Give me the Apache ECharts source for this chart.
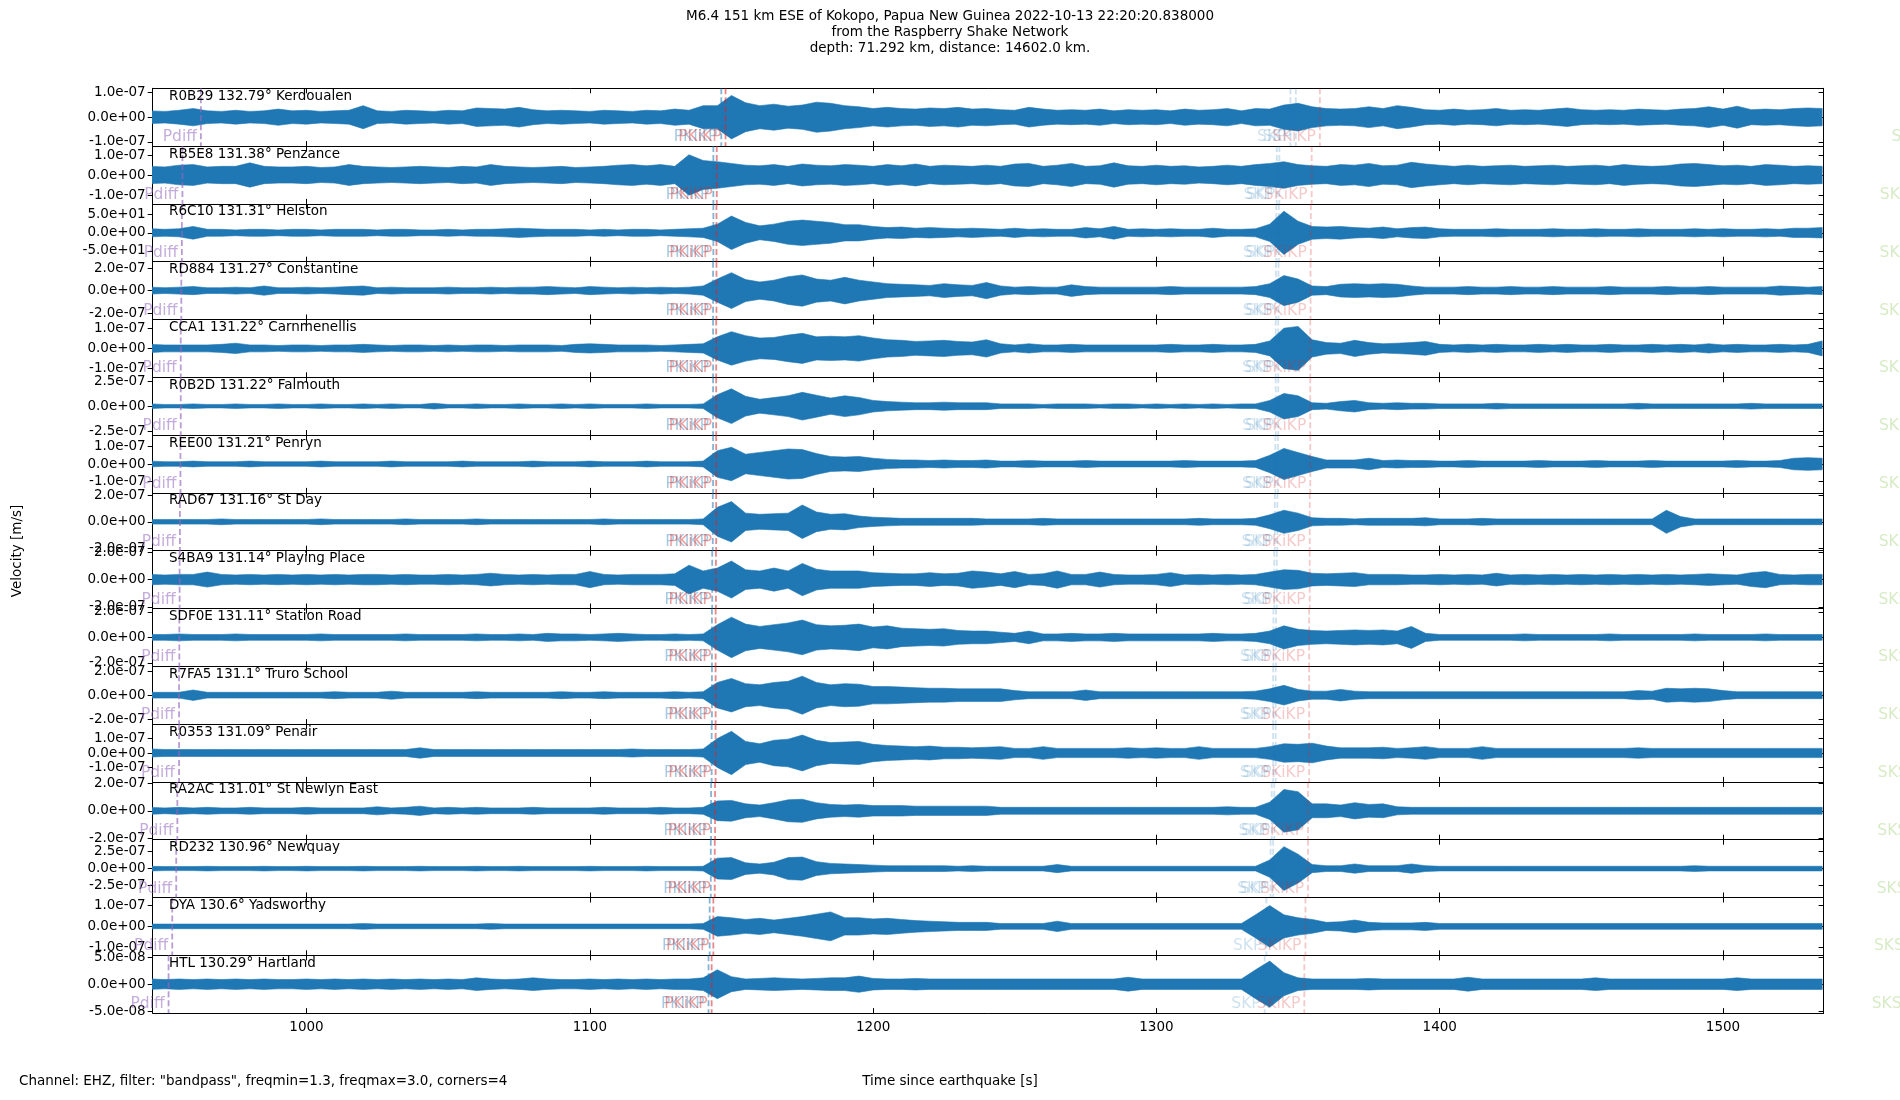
<!DOCTYPE html>
<html>
<head>
<meta charset="UTF-8">
<title>Raspberry Shake record section</title>
<script src="https://cdn.jsdelivr.net/npm/echarts@6/dist/echarts.min.js"></script>
<style>
    *{margin:0;padding:0;}
    #main{width:1900px;height:1100px;background:#fff;}
</style>
</head>
<body>
<div id="main"></div>
<script>
// stations, top to bottom
var stations = ['R0B29','RB5E8','R6C10','RD884','CCA1','R0B2D','REE00','RAD67','S4BA9','SDF0E','R7FA5','R0353','RA2AC','RD232','DYA','HTL'];
var distances = ['132.79','131.38','131.31','131.27','131.22','131.22','131.21','131.16','131.14','131.11','131.1','131.09','131.01','130.96','130.6','130.29'];
var places = ['Kerdoualen','Penzance','Helston','Constantine','Carnmenellis','Falmouth','Penryn','St Day','Playing Place','Station Road','Truro School','Penair','St Newlyn East','Newquay','Yadsworthy','Hartland'];

// y tick value and y half range of each panel
var yTicks  = [1e-7, 1e-7, 50, 2e-7, 1e-7, 2.5e-7, 1e-7, 2e-7, 2e-7, 2e-7, 2e-7, 1e-7, 2e-7, 2.5e-7, 1e-7, 5e-8];
var yLimits = [1.17e-7, 1.445e-7, 80, 2.58e-7, 1.45e-7, 2.91e-7, 1.64e-7, 2.17e-7, 2.12e-7, 2.27e-7, 2.39e-7, 1.99e-7, 2.12e-7, 4.26e-7, 1.38e-7, 5.35e-8];

var xTicks = [1000, 1100, 1200, 1300, 1400, 1500];
var xMin = 945.7, xMax = 1535.5;

// trace envelopes, % of panel half range, one value every 5 s from 945 s
var sampleStart = 945, sampleStep = 5;
var envR0B29 = [22,20,24,30,22,20,24,20,22,28, 22,24,20,22,24,40,22,20,24,22, 20,24,22,32,30,28,34,26,22,24, 22,20,24,22,20,24,22,28,24,40,
                40,75,50,40,45,38,42,52,48,40, 36,30,34,30,28,32,30,34,28,30, 26,24,34,28,24,26,24,28,22,26, 24,26,22,28,24,26,30,22,30,28,
                42,48,36,30,28,30,36,30,40,34, 26,24,28,24,26,30,24,26,24,28, 32,26,24,26,24,28,26,24,28,30, 36,28,38,26,28,26,30,32,30];
var envRB5E8 = [30,28,34,36,28,30,30,42,30,28, 28,30,26,28,36,30,28,26,28,30, 28,26,30,28,36,30,28,26,28,30, 26,28,30,34,36,32,36,30,70,50,
                46,40,34,32,36,30,38,34,32,36, 34,30,36,32,38,30,34,32,30,34, 30,38,40,30,34,40,30,32,42,32, 30,34,30,32,28,30,34,30,36,40,
                46,36,32,30,36,34,40,32,34,44, 38,34,30,34,30,32,34,30,32,34, 30,32,34,30,36,32,30,32,38,40, 36,32,34,30,36,34,30,32,30];
var envR6C10 = [14,12,14,22,12,12,10,12,12,10, 12,12,10,12,12,12,10,12,12,10, 10,12,10,12,12,14,16,14,12,12, 12,10,12,10,12,12,10,12,14,16,
                30,58,36,24,30,40,44,40,36,28, 28,22,18,20,16,18,16,14,16,14, 12,16,12,14,12,12,18,14,22,12, 14,12,14,12,12,16,12,12,14,30,
                75,40,22,20,22,18,16,20,14,18, 20,14,12,12,12,14,12,12,12,14, 12,12,14,12,12,14,12,12,12,14, 12,14,12,12,14,12,16,16,18];
var envRD884 = [12,10,12,14,10,10,12,10,16,10, 10,12,10,12,14,16,10,12,10,10, 10,12,10,10,12,10,12,12,14,12, 10,14,12,10,12,10,12,10,12,16,
                40,62,38,30,36,48,54,40,36,46, 36,30,24,22,20,18,24,20,18,28, 16,12,14,12,12,20,14,12,12,12, 12,12,14,12,12,12,12,12,14,24,
                52,40,16,14,22,24,22,24,22,16, 12,12,12,14,12,12,14,12,12,14, 12,12,12,14,12,12,12,14,12,12, 14,12,12,12,12,16,14,12,14];
var envCCA1  = [14,12,12,12,12,14,18,12,12,10, 12,12,10,12,12,14,12,10,12,12, 10,12,10,12,12,10,12,12,12,10, 14,16,14,12,12,12,10,12,14,16,
                40,58,44,36,38,46,52,40,42,40, 44,36,30,28,24,26,28,24,22,30, 16,12,16,12,12,14,12,12,12,12, 12,12,14,12,12,14,12,12,14,26,
                70,76,30,20,18,28,20,16,18,20, 24,14,12,14,12,14,12,12,14,12, 14,12,12,14,12,12,14,12,14,12, 16,12,14,12,12,14,12,14,26];
var envR0B2D = [8,6,6,8,6,6,8,6,6,8, 6,6,8,6,6,8,6,8,6,6, 10,6,6,8,6,6,8,6,6,8, 6,8,6,6,6,8,6,6,6,8,
                40,60,34,24,30,36,48,38,28,36, 30,20,16,14,12,12,14,12,12,12, 8,8,8,6,8,8,8,6,8,8, 6,8,6,8,6,8,6,8,8,20,
                44,36,12,10,16,20,12,10,12,10, 10,8,8,8,8,10,8,8,8,8, 8,8,8,8,8,10,8,8,8,8, 8,8,8,10,8,8,8,8,8];
var envREE00 = [10,8,8,10,8,8,8,10,8,8, 8,8,10,8,8,8,8,10,8,8, 8,8,10,8,8,8,8,10,8,8, 8,10,8,8,8,10,8,8,8,10,
                46,58,34,40,46,52,50,36,26,24, 26,20,16,14,14,12,14,12,12,14, 10,10,12,10,10,10,12,10,10,10, 10,10,10,12,10,10,10,10,12,30,
                54,40,26,14,14,14,20,12,14,12, 12,10,10,12,10,10,10,10,12,10, 10,10,12,10,10,10,12,10,10,10, 10,10,12,10,10,12,20,22,20];
var envRAD67 = [8,8,8,8,8,10,8,8,8,8, 8,8,10,8,8,8,8,8,10,8, 8,8,8,10,8,8,8,8,8,8, 8,8,10,8,8,8,8,8,8,10,
                50,70,30,26,28,30,58,34,26,28, 20,16,14,12,12,12,12,12,12,10, 10,10,10,12,10,10,10,10,10,10, 10,10,10,10,12,10,10,10,12,24,
                40,30,14,12,12,10,12,12,12,12, 14,10,10,10,12,10,10,10,10,10, 10,10,10,10,10,10,10,40,18,10, 10,10,10,10,10,10,10,10,10];
var envS4BA9 = [18,16,18,18,26,18,16,18,16,18, 16,18,16,18,16,18,18,16,18,16, 16,18,16,18,22,18,16,18,16,18, 18,28,18,16,18,18,18,20,50,30,
                40,64,34,30,40,30,56,36,30,30, 30,24,22,20,20,24,20,22,30,26, 20,28,18,20,30,18,18,26,18,16, 16,18,24,16,18,16,18,16,18,26,
                34,32,22,20,22,24,18,18,18,16, 16,18,16,18,16,22,16,18,16,18, 16,18,16,18,16,18,16,18,16,18, 20,18,16,24,28,18,16,18,18];
var envSDF0E = [10,10,12,10,10,10,12,10,10,10, 10,10,12,10,10,10,10,10,12,10, 10,10,10,12,10,10,12,10,14,12, 12,10,12,14,12,10,10,12,10,12,
                44,70,46,38,44,50,60,44,40,42, 46,36,40,32,30,28,30,24,22,22, 18,14,22,12,12,14,12,12,14,12, 12,12,12,12,12,14,12,12,14,22,
                40,28,24,22,24,26,24,26,22,38, 14,10,10,10,10,10,10,12,10,10, 10,10,10,12,10,10,10,10,10,12, 10,10,10,10,12,10,10,10,10];
var envR7FA5 = [10,10,10,18,10,10,10,10,10,10, 10,10,10,12,10,10,10,14,10,10, 10,10,10,12,10,10,10,10,10,12, 10,10,12,10,10,10,10,12,10,12,
                44,58,40,36,44,48,66,44,36,40, 38,30,30,28,26,24,24,22,22,22, 22,16,12,12,12,12,18,12,12,12, 12,12,12,12,12,12,12,12,14,22,
                34,20,14,14,20,14,12,12,12,12, 12,12,12,12,12,12,12,12,12,12, 12,12,12,12,12,16,14,24,22,24, 22,16,12,12,12,12,12,12,12];
var envR0353 = [14,12,12,12,12,12,12,12,12,12, 12,12,12,12,12,12,12,12,12,18, 12,12,12,12,12,12,12,12,12,12, 12,12,12,12,14,12,12,12,12,14,
                50,75,40,32,44,48,62,44,36,38, 40,30,26,24,22,24,20,20,18,20, 22,16,16,22,16,16,16,16,16,18, 16,18,16,16,22,16,16,16,16,22,
                32,30,34,24,18,18,18,20,16,18, 22,16,16,16,22,16,16,16,16,16, 16,16,16,16,16,18,16,16,16,16, 16,16,16,16,16,16,16,16,16];
var envRA2AC = [12,10,12,10,12,10,10,12,10,10, 10,12,10,10,10,10,14,10,12,16, 10,12,10,12,10,10,10,12,10,10, 10,10,12,10,10,10,12,10,10,12,
                34,36,24,20,28,38,40,28,22,20, 22,18,18,18,16,16,16,16,16,16, 12,12,12,12,12,12,12,12,12,12, 12,12,12,12,12,12,14,12,12,30,
                74,66,24,24,20,28,22,24,14,12, 12,12,12,12,12,12,12,12,12,12, 12,12,12,12,12,12,12,12,12,12, 12,12,12,12,12,12,12,12,12];
var envRD232 = [8,7,7,7,8,7,7,7,8,7, 7,8,7,7,7,8,7,7,7,8, 7,7,7,8,7,7,8,7,7,7, 7,8,7,7,7,8,7,7,7,8,
                36,38,20,16,22,38,40,24,18,16, 14,12,10,10,10,10,10,8,10,8, 8,8,8,8,14,8,8,8,8,8, 8,8,8,8,8,8,8,8,8,30,
                76,50,14,10,10,16,10,10,10,16, 10,8,8,8,8,8,8,8,8,8, 8,8,8,8,8,8,8,8,8,10, 8,8,8,8,8,8,8,8,8];
var envDYA   = [8,8,8,8,8,8,8,8,8,8, 8,8,8,8,8,10,8,8,8,8, 8,8,8,8,10,8,8,8,8,8, 8,8,8,8,8,8,8,8,8,10,
                34,30,24,28,22,28,34,42,50,30, 30,26,28,24,20,18,16,14,14,14, 10,10,10,10,18,10,10,10,10,10, 10,10,10,10,10,10,10,10,40,72,
                40,30,24,14,16,22,14,12,12,12, 14,10,10,10,10,10,10,10,10,10, 10,10,10,10,10,10,10,10,10,10, 10,10,10,10,10,10,10,10,10];
var envHTL   = [18,16,18,16,18,16,18,16,18,16, 16,18,16,18,16,18,16,18,16,18, 16,18,16,22,18,16,18,22,18,16, 16,18,16,18,16,18,16,18,18,22,
                50,26,18,20,22,20,18,20,22,22, 28,20,18,18,20,18,18,18,18,18, 18,18,18,18,18,18,18,18,18,24, 18,18,18,18,18,18,18,18,50,80,
                40,22,18,18,18,18,20,18,18,18, 18,18,18,24,18,18,18,18,18,18, 18,18,22,18,18,18,18,18,18,18, 18,18,22,18,18,18,18,18,18];
var envelopes = [envR0B29, envRB5E8, envR6C10, envRD884, envCCA1, envR0B2D, envREE00, envRAD67,
                 envS4BA9, envSDF0E, envR7FA5, envR0353, envRA2AC, envRD232, envDYA, envHTL];

// predicted arrival times [s] per panel
var tPdiff = [962.7, 956.2, 956.0, 955.8, 955.6, 955.6, 955.5, 955.3, 955.2, 955.1, 955.0, 955.0, 954.4, 954.0, 952.6, 951.3];
var tPKIKP = [1146.4, 1143.6, 1143.6, 1143.5, 1143.5, 1143.5, 1143.5, 1143.4, 1143.2, 1143.1, 1143.1, 1143.0, 1142.8, 1142.7, 1142.3, 1141.9];
var tPKiKP = [1147.9, 1144.8, 1144.7, 1144.7, 1144.6, 1144.6, 1144.6, 1144.6, 1144.5, 1144.4, 1144.4, 1144.4, 1144.2, 1144.1, 1143.6, 1143.0];
var tSKP   = [1347.3, 1342.5, 1342.3, 1342.2, 1342.1, 1342.1, 1342.0, 1341.8, 1341.6, 1341.3, 1341.2, 1341.2, 1340.7, 1340.3, 1338.8, 1338.2];
var tSKP2  = [1349.2, 1343.4, 1343.2, 1343.1, 1343.0, 1343.0, 1342.9, 1342.7, 1342.5, 1342.2, 1342.1, 1342.1, 1341.6, 1341.2, null, null];
var tSKiKP = [1357.7, 1354.8, 1354.5, 1354.4, 1354.3, 1354.3, 1354.3, 1354.1, 1354.1, 1353.9, 1353.9, 1353.9, 1353.5, 1353.5, 1352.6, 1352.2];
var tSKS   = [1571.4, 1567.3, 1567.2, 1567.1, 1567.0, 1567.0, 1567.0, 1566.9, 1566.8, 1566.7, 1566.7, 1566.6, 1566.4, 1566.2, 1565.2, 1564.4];
var phaseNames = ['Pdiff', 'PKIKP', 'PKiKP', 'SKP', 'SKP', 'SKiKP', 'SKS'];
var phaseTimes = [tPdiff, tPKIKP, tPKiKP, tSKP, tSKP2, tSKiKP, tSKS];

var titleLines = ['M6.4 151 km ESE of Kokopo, Papua New Guinea 2022-10-13 22:20:20.838000',
                  'from the Raspberry Shake Network',
                  'depth: 71.292 km, distance: 14602.0 km.'];

// ---- layout / style ----
var FONT = '"DejaVu Sans", sans-serif';
var TRACE = '#1f77b4';
var PLOT_LEFT = 152.7, PLOT_RIGHT = 76.4, PLOT_TOP = 88.3, PANEL_H = 57.8;
var phaseLine = ['rgba(148,103,189,0.65)', 'rgba(31,119,180,0.55)', 'rgba(214,39,40,0.55)',
                 'rgba(31,119,180,0.22)', 'rgba(31,119,180,0.22)', 'rgba(214,39,40,0.25)', 'rgba(120,190,60,0.3)'];
var phaseText = ['rgba(148,103,189,0.55)', 'rgba(31,119,180,0.4)', 'rgba(214,39,40,0.45)',
                 'rgba(31,119,180,0.22)', 'rgba(31,119,180,0.22)', 'rgba(214,39,40,0.25)', 'rgba(120,190,60,0.3)'];

function sci(v) {
    if (v === 0) return '0.0e+00';
    var p = v.toExponential(1).split('e');
    var e = parseInt(p[1], 10);
    var a = Math.abs(e);
    return p[0] + 'e' + (e < 0 ? '-' : '+') + (a < 10 ? '0' : '') + a;
}

function traceRenderer(i) {
    return function (params, api) {
        var env = envelopes[i], up = [], down = [];
        for (var k = 0; k < env.length; k++) {
            var t = sampleStart + k * sampleStep;
            var a = env[k] / 100 * yLimits[i];
            up.push(api.coord([t, a]));
            down.push(api.coord([t, -a]));
        }
        return {
            type: 'polygon',
            shape: {points: up.concat(down.reverse())},
            style: {fill: TRACE, stroke: TRACE, lineWidth: 0.6}
        };
    };
}

function phaseRenderer(i) {
    return function (params, api) {
        var t = api.value(0), k = api.value(1);
        var hi = api.coord([t, yLimits[i]]), lo = api.coord([t, -yLimits[i]]);
        var kids = [];
        if (t >= xMin && t <= xMax) {
            kids.push({type: 'line', shape: {x1: hi[0], y1: hi[1], x2: lo[0], y2: lo[1]},
                style: {stroke: phaseLine[k], lineWidth: 1.8, lineDash: [6, 3]}});
        }
        kids.push({type: 'text', style: {text: phaseNames[k], x: lo[0] - 4, y: lo[1] - 9,
            align: 'right', verticalAlign: 'middle', fill: phaseText[k], font: '15.5px ' + FONT}});
        return {type: 'group', children: kids};
    };
}

var N = stations.length;
var grids = [], xAxes = [], yAxes = [], series = [], graphics = [];

for (var i = 0; i < N; i++) {
    var panelTop = PLOT_TOP + i * PANEL_H;
    grids.push({left: PLOT_LEFT, right: PLOT_RIGHT, top: panelTop, height: PANEL_H, containLabel: false});

    var tk = [-yTicks[i], 0, yTicks[i]];
    xAxes.push({gridIndex: i, type: 'value', min: xMin, max: xMax, position: 'bottom',
        axisLine: {show: true, onZero: false, lineStyle: {color: '#000', width: 1}},
        axisTick: {show: true, inside: true, length: 5, customValues: xTicks, lineStyle: {color: '#000'}},
        axisLabel: {show: i === N - 1, customValues: xTicks, formatter: function (v) { return String(v); },
            color: '#000', fontSize: 13.5, fontFamily: FONT, margin: 7},
        splitLine: {show: false}});
    xAxes.push({gridIndex: i, type: 'value', min: xMin, max: xMax, position: 'top',
        axisLine: {show: true, onZero: false, lineStyle: {color: '#000', width: 1}},
        axisTick: {show: true, inside: true, length: 5, customValues: xTicks, lineStyle: {color: '#000'}},
        axisLabel: {show: false}, splitLine: {show: false}});
    yAxes.push({gridIndex: i, type: 'value', min: -yLimits[i], max: yLimits[i], position: 'left',
        axisLine: {show: true, onZero: false, lineStyle: {color: '#000', width: 1}},
        axisTick: {show: true, inside: false, length: 5, customValues: tk, lineStyle: {color: '#000'}},
        axisLabel: {customValues: tk, formatter: sci, color: '#000', fontSize: 13.5, fontFamily: FONT, margin: 7},
        splitLine: {show: false}});
    yAxes.push({gridIndex: i, type: 'value', min: -yLimits[i], max: yLimits[i], position: 'right',
        axisLine: {show: true, onZero: false, lineStyle: {color: '#000', width: 1}},
        axisTick: {show: true, inside: true, length: 5, customValues: tk, lineStyle: {color: '#000'}},
        axisLabel: {show: false}, splitLine: {show: false}});

    series.push({type: 'custom', xAxisIndex: 2 * i, yAxisIndex: 2 * i, clip: true, silent: true, z: 2,
        data: [[xMin, 0]], renderItem: traceRenderer(i)});

    var marks = [];
    for (var p = 0; p < phaseTimes.length; p++) {
        if (phaseTimes[p][i] != null) marks.push([phaseTimes[p][i], p]);
    }
    series.push({type: 'custom', xAxisIndex: 2 * i, yAxisIndex: 2 * i, clip: false, silent: true, z: 3,
        data: marks, renderItem: phaseRenderer(i)});

    graphics.push({type: 'text', left: 169, top: panelTop + 1, z: 10,
        style: {text: stations[i] + ' ' + distances[i] + '\u00b0 ' + places[i], fill: '#000', font: '13.5px ' + FONT}});
}

graphics.push({type: 'text', x: 17, y: 551, rotation: Math.PI / 2,
    style: {text: 'Velocity [m/s]', fill: '#000', font: '13.5px ' + FONT, align: 'center', verticalAlign: 'middle'}});
graphics.push({type: 'text', x: 19, y: 1081,
    style: {text: 'Channel: EHZ, filter: "bandpass", freqmin=1.3, freqmax=3.0, corners=4', fill: '#000',
        font: '13.5px ' + FONT, align: 'left', verticalAlign: 'middle'}});
graphics.push({type: 'text', x: 950, y: 1081,
    style: {text: 'Time since earthquake [s]', fill: '#000', font: '13.5px ' + FONT, align: 'center', verticalAlign: 'middle'}});
graphics.push({type: 'text', x: 950, y: 9,
    style: {text: titleLines.join('\n'), fill: '#000', font: '13.5px ' + FONT, align: 'center', verticalAlign: 'top', lineHeight: 15.8}});

var chart = echarts.init(document.getElementById('main'), null, {renderer: 'canvas'});
chart.setOption({
    animation: false,
    backgroundColor: '#fff',
    grid: grids,
    xAxis: xAxes,
    yAxis: yAxes,
    series: series,
    graphic: graphics
});
</script>
</body>
</html>
